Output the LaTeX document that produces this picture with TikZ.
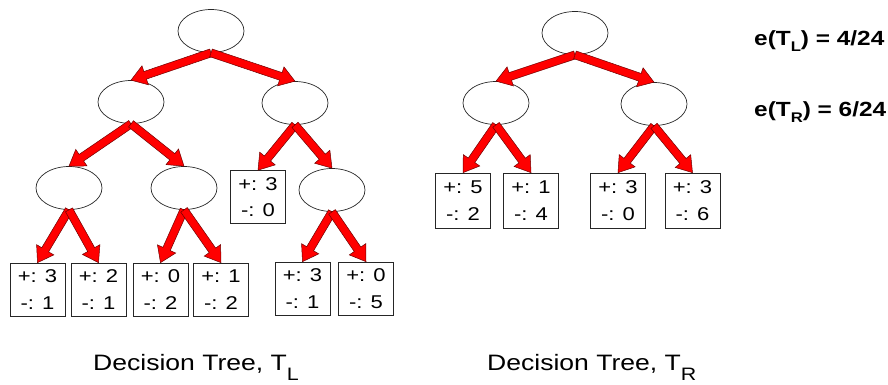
\documentclass[tikz,border=0pt]{standalone}
\usepackage{fontspec}
\setmainfont{Liberation Sans}[FakeStretch=1.19]
\usetikzlibrary{calc,shapes.geometric}
\definecolor{arrowred}{RGB}{255,0,0}
\definecolor{arrowedge}{RGB}{110,0,0}
\newcommand\barrow[2]{%
  \coordinate (bA) at (#1); \coordinate (bB) at (#2);
  \coordinate (bC) at ($(bB)!15pt!(bA)$);
  \filldraw[arrowstyle] ($(bA)!4pt!90:(bB)$) -- ($(bC)!4pt!-90:(bA)$) -- ($(bC)!10pt!-90:(bA)$) -- (bB) -- ($(bC)!10pt!90:(bA)$) -- ($(bC)!4pt!90:(bA)$) -- ($(bA)!4pt!-90:(bB)$) -- cycle;}
\newcommand\lowsub[3]{\raisebox{-#2}{\fontsize{#3}{#3}\selectfont #1}}
\begin{document}
\begin{tikzpicture}[x=1pt,y=-1pt,
  inode/.style={ellipse,draw=black!85,line width=0.7pt,minimum width=66pt,minimum height=43pt,inner sep=0pt},
  leaf/.style={draw=black!85,line width=0.7pt,minimum width=55pt,minimum height=53pt,inner sep=0pt,align=center,font=\fontsize{18.5}{26.5}\selectfont},
  arrowstyle/.style={fill=arrowred,draw=arrowedge,line width=0.5pt,line join=miter},
  caption/.style={anchor=base west,inner sep=0pt,font=\fontsize{22.3}{24}\selectfont},
  errtext/.style={anchor=base west,inner sep=0pt,font=\fontsize{20.5}{22}\selectfont\bfseries}]
\useasboundingbox (0,0) rectangle (888,384);
% Left tree
\node[inode] (r) at (211,31) {};
\node[inode] (a) at (131,102) {};
\node[inode] (b) at (295,103) {};
\node[inode] (aa) at (69,188) {};
\node[inode] (ab) at (184,188) {};
\node[leaf] (ba) at (258,197) {+: 3\\-: 0};
\node[inode] (bb) at (332,190) {};
\node[leaf] (aaa) at (37.5,289.5) {+: 3\\-: 1};
\node[leaf] (aab) at (98.5,289.5) {+: 2\\-: 1};
\node[leaf] (aba) at (160.5,289.5) {+: 0\\-: 2};
\node[leaf] (abb) at (221,289.5) {+: 1\\-: 2};
\node[leaf] (bba) at (302.5,288.5) {+: 3\\-: 1};
\node[leaf] (bbb) at (366,288.5) {+: 0\\-: 5};
\barrow{r.south}{a.north}
\barrow{r.south}{b.north}
\barrow{a.south}{aa.north}
\barrow{a.south}{ab.north}
\barrow{b.south}{ba.north}
\barrow{b.south}{bb.north}
\barrow{aa.south}{aaa.north}
\barrow{aa.south}{aab.north}
\barrow{ab.south}{aba.north}
\barrow{ab.south}{abb.north}
\barrow{bb.south}{bba.north}
\barrow{bb.south}{bbb.north}
% Right tree
\node[inode] (R) at (575,33) {};
\node[inode] (A) at (496,103) {};
\node[inode] (B) at (654,104) {};
\node[leaf,minimum height=55pt] (AA) at (463,200.5) {+: 5\\-: 2};
\node[leaf,minimum height=55pt] (AB) at (531,200.5) {+: 1\\-: 4};
\node[leaf,minimum height=55pt] (BA) at (618,200.5) {+: 3\\-: 0};
\node[leaf,minimum height=55pt] (BB) at (692.5,200.5) {+: 3\\-: 6};
\barrow{R.south}{A.north}
\barrow{R.south}{B.north}
\barrow{A.south}{AA.north}
\barrow{A.south}{AB.north}
\barrow{B.south}{BA.north}
\barrow{B.south}{BB.north}
% Texts
\node[errtext] (eL) at (754,45) {e(T\lowsub{L}{6pt}{14}) = 4/24};
\node[errtext] (eR) at (754,116) {e(T\lowsub{R}{6pt}{14}) = 6/24};
\node[caption] (cL) at (93,370) {Decision Tree, T\lowsub{L}{10pt}{18}};
\node[caption] (cR) at (487,370) {Decision Tree, T\lowsub{R}{10pt}{18}};
\end{tikzpicture}
\end{document}
